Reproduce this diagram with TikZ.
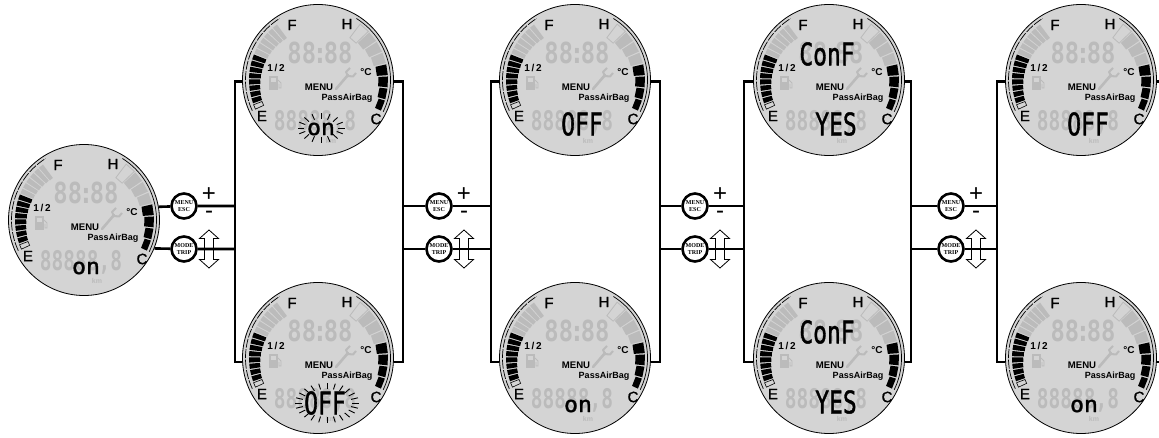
\documentclass[tikz,border=0pt]{standalone}
\usepackage{fontspec}
\setmainfont{Liberation Sans}
\newfontfamily\lcdfont[FakeBold=1.5]{DejaVu Sans Mono}
\newfontfamily\dialfont[FakeBold=1.2]{Liberation Sans}
\newfontfamily\ghostfont{DejaVu Sans Mono}
\newfontfamily\btnfont{Liberation Serif}
\definecolor{lcdface}{HTML}{D4D4D4}
\definecolor{lcdgray}{HTML}{BBBBBB}
\tikzset{
    wire/.style={line width=2.6pt},
    dialface/.style={circle, draw, fill=lcdface, line width=0.8pt, minimum size=151pt, inner sep=0pt},
    ghost/.style={text=lcdgray, inner sep=0pt, xscale=0.82, transform shape, font=\ghostfont\bfseries\fontsize{29}{29}\selectfont},
    lcd/.style={text=black, inner sep=0pt, xscale=0.74, transform shape, font=\lcdfont\fontsize{31}{31}\selectfont},
    lcdsmall/.style={text=black, inner sep=0pt, xscale=1.05, transform shape, font=\lcdfont\fontsize{22}{22}\selectfont},
    scale label/.style={inner sep=0pt, font=\dialfont\fontsize{15}{15}\selectfont},
    tag/.style={inner sep=0pt, font=\bfseries\fontsize{9}{9}\selectfont},
    keybtn/.style={circle, draw, fill=white, line width=2.6pt, minimum size=25pt, inner sep=0pt, align=center, font=\btnfont\bfseries\fontsize{6}{6.6}\selectfont},
    sign/.style={inner sep=0pt, font=\fontsize{24}{24}\selectfont},
    pics/dial/.style={code={
        \node[dialface] (face) at (0,0) {};
        % fuel bars, empty to full
        \foreach \c [count=\i] in {black,black,black,black,black,black,black,black,lcdgray,lcdgray,lcdgray,lcdgray,lcdgray,lcdgray} {
            \pgfmathsetmacro\a{160.3+(\i-1)*5.3}
            \pgfmathsetmacro\b{\a+4.3}
            \pgfmathsetmacro\r{60-\i*0.55}
            \fill[\c] (\a:\r) -- (\a:69) -- (\b:69) -- (\b:\r) -- cycle;
        }
        \filldraw[fill=lcdface, line width=0.6pt] (155:60) -- (155:69) -- (159:69) -- (159:60) -- cycle;
        % temperature bars, cold to hot
        \foreach \c [count=\i] in {black,black,black,black,lcdgray,lcdgray,lcdgray} {
            \pgfmathsetmacro\a{26-(\i-1)*10}
            \pgfmathsetmacro\b{\a-8.9}
            \pgfmathsetmacro\r{65-\i*1.5}
            \fill[\c] (\a:\r) -- (\a:70) -- (\b:70) -- (\b:\r) -- cycle;
        }
        \draw[lcdgray, line width=0.8pt] (-44:53) -- (-44:70) -- (-53:70) -- (-53:53) -- cycle;
        \draw[line width=0.7pt, dash pattern=on 9pt off 1.5pt] (155:72.5) arc (155:238:72.5);
        \draw[line width=0.7pt] (-58:72.5) arc (-58:26:72.5);
        \node[ghost] (clock) at (2,-27) {88\kern-4pt:\kern-4pt 88};
        \node[ghost, xscale=0.88, font=\ghostfont\bfseries\fontsize{27}{27}\selectfont] (trip) at (-3,42) {88888,8};
        \node[inner sep=0pt, text=lcdgray, font=\bfseries\fontsize{7}{7}\selectfont] (km) at (13,61) {km};
        \node[scale label] (F) at (-26,-55) {F};
        \node[scale label] (H) at (29,-56) {H};
        \node[scale label] (E) at (-56,36) {E};
        \node[scale label] (C) at (58,39) {C};
        \node[tag, font=\bfseries\fontsize{10}{10}\selectfont] (half) at (-42,-12) {1\,/\,2};
        \node[tag, font=\bfseries\fontsize{10}{10}\selectfont] (deg) at (48,-8) {°C};
        \node[tag, font=\bfseries\fontsize{9.6}{9.6}\selectfont] (menu) at (1,7) {MENU};
        \node[tag] (bag) at (29,18) {PassAirBag};
        % wrench
        \draw[lcdgray, line width=2.6pt, line cap=round] (18,9) -- (30,-5);
        \draw[lcdgray, line width=2pt, line join=round] (32,-12) -- (28,-8) -- (30,-4) -- (35,-3.5) -- (38,-7);
        % pump
        \fill[lcdgray] (-49,-4) rectangle (-40,10);
        \fill[lcdface] (-47,-2) rectangle (-42,2);
        \draw[lcdgray, line width=0.8pt] (-40,0) -- (-37,3) -- (-37,8) -- (-39,8) -- (-39,4);
    }},
    pics/keys/.style={code={
        \node[keybtn] (menu) at (0,206) {MENU\\ESC};
        \node[keybtn] (mode) at (0,249) {MODE\\TRIP};
        \node[sign] (plus) at (25,195) {+};
        \node[sign] (minus) at (25,215) {-};
        \draw[fill=white, line width=0.8pt] (25,230) -- (34.5,238.5) -- (29.5,238.5) -- (29.5,249) -- (20.5,249) -- (20.5,238.5) -- (15.5,238.5) -- cycle;
        \draw[fill=white, line width=0.8pt] (25,268) -- (34.5,259.5) -- (29.5,259.5) -- (29.5,249) -- (20.5,249) -- (20.5,259.5) -- (15.5,259.5) -- cycle;
    }},
    pics/blink/.style n args={5}{code={
        \foreach \t in {0,#5,...,359}
            \draw[line width=0.9pt] (\t:#1 and #2) -- (\t:#3 and #4);
    }},
}
\begin{document}
\begin{tikzpicture}[x=1pt, y=-1pt]
    \useasboundingbox (0,0) rectangle (1159,438);

    % dials
    \foreach \n/\x/\y in {a/84/220, t1/318/80, u1/318/358, t2/575/80, u2/575/358, t3/829/80, u3/829/358, t4/1081/80, u4/1081/358}
        \pic (\n) at (\x,\y) {dial};

    % key pairs
    \foreach \n/\x in {k1/184, k2/439, k3/695, k4/951}
        \pic (\n) at (\x,0) {keys};

    % buses
    \coordinate (l1) at (235,220);
    \coordinate (r1) at (403,220);
    \coordinate (l2) at (491,220);
    \coordinate (r2) at (660,220);
    \coordinate (l3) at (744,220);
    \coordinate (r3) at (911,220);
    \coordinate (l4) at (997,220);
    \coordinate (r4) at (1159,220);

    \foreach \n in {1,2,3,4}
        \draw[wire] (t\n face.181.5) -| (l\n) |- (u\n face.183.8);
    \foreach \n in {1,2,3}
        \draw[wire] (t\n face.-1.5) -| (r\n) |- (u\n face.-3.8);
    \draw[wire] (t4face.-1.5) -- (t4face.-1.5 -| r4);
    \draw[wire] (u4face.-3.8) -- (u4face.-3.8 -| r4);

    \draw[wire] (aface.10.6) -- (k1menu) -- (k1menu -| l1);
    \draw[wire] (aface.-22.4) -- (k1mode) -- (k1mode -| l1);
    \foreach \a/\k/\b in {1/2/2, 2/3/3, 3/4/4} {
        \draw[wire] (k\k menu -| r\a) -- (k\k menu) -- (k\k menu -| l\b);
        \draw[wire] (k\k mode -| r\a) -- (k\k mode) -- (k\k mode -| l\b);
    }

    % shown texts
    \node[lcdsmall] (onA) at (86,268) {on};
    \node[lcdsmall] (onB) at (321,129) {on};
    \node[lcd] (offB) at (325,403) {OFF};
    \node[lcd] (offC) at (582,124) {OFF};
    \node[lcdsmall] (onC) at (578,406) {on};
    \node[lcd] (confD) at (827,54) {ConF};
    \node[lcd] (yesD) at (836,124) {YES};
    \node[lcd] (confE) at (827,332) {ConF};
    \node[lcd] (yesE) at (836,402) {YES};
    \node[lcd] (offF) at (1088,124) {OFF};
    \node[lcdsmall] (onF) at (1084,406) {on};

    \pic (raysB) at (321,128) {blink={17}{9}{23.5}{15}{22.5}};
    \pic (raysC) at (327,403) {blink={25}{14}{32}{20}{15}};
\end{tikzpicture}
\end{document}
